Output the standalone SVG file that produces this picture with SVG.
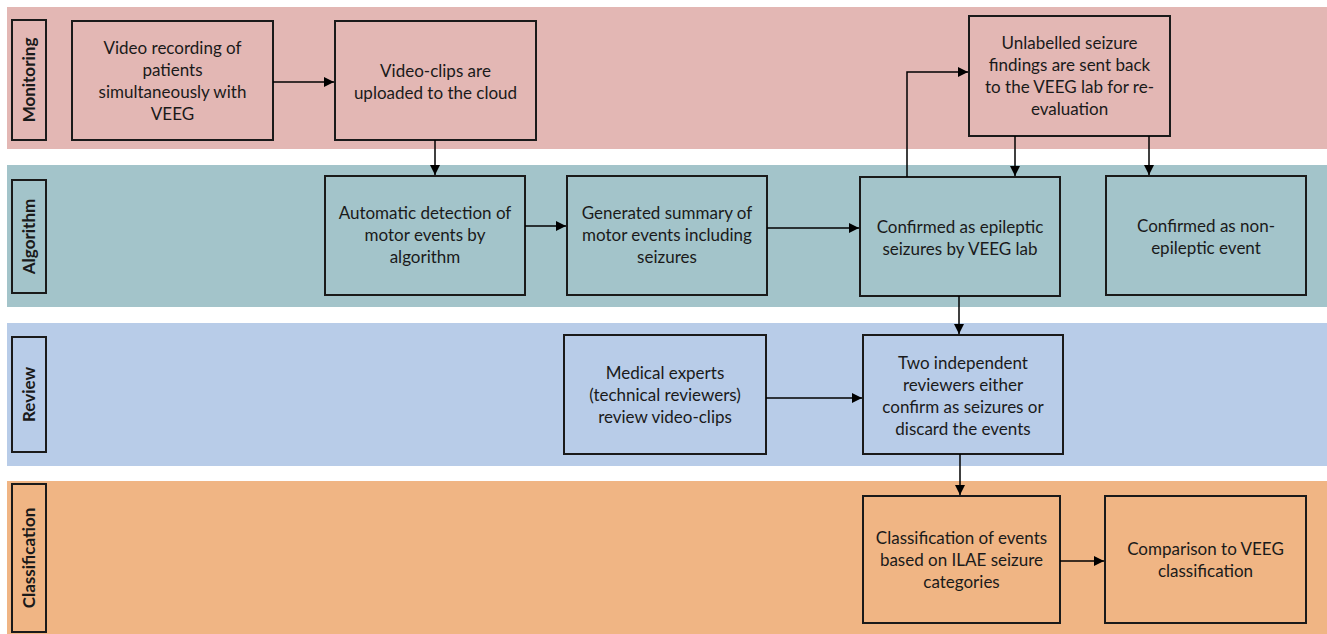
<svg xmlns="http://www.w3.org/2000/svg" width="1327" height="634" viewBox="0 0 1327 634">
<defs>
<marker id="ah" viewBox="0 0 10 10" refX="10" refY="5" markerWidth="10" markerHeight="10" markerUnits="userSpaceOnUse" orient="auto">
<path d="M0,0 L10,5 L0,10 z" fill="#000"/>
</marker>
</defs>
<style>
.node rect{stroke:#1a1a1a;stroke-width:2}
.lbl rect{fill:none;stroke:#1a1a1a;stroke-width:2}
text{font-family:Lato,"Open Sans",sans-serif;fill:#1a1a1a}
.t{font-size:17px;text-anchor:middle}
.lt{font-size:17px;font-weight:bold;text-anchor:middle}
.c{fill:none;stroke:#000;stroke-width:1.5;marker-end:url(#ah)}
.mon{fill:#E3B7B4}.alg{fill:#A3C4CA}.rev{fill:#B8CCE8}.cls{fill:#F0B584}
</style>
<rect width="1327" height="634" fill="#fff"/>
<g id="lanes">
<rect class="mon" x="7" y="7" width="1320" height="142"/>
<rect class="alg" x="7" y="165" width="1320" height="142"/>
<rect class="rev" x="7" y="323" width="1320" height="143"/>
<rect class="cls" x="7" y="481" width="1320" height="153"/>
</g>
<g id="lane-monitoring" class="lbl"><rect x="12" y="20" width="34" height="120"/><text class="lt" transform="translate(35,80) rotate(-90)">Monitoring</text></g>
<g id="lane-algorithm" class="lbl"><rect x="12" y="180" width="34" height="113"/><text class="lt" transform="translate(35,236.5) rotate(-90)">Algorithm</text></g>
<g id="lane-review" class="lbl"><rect x="12" y="337" width="34" height="115"/><text class="lt" transform="translate(35,394.5) rotate(-90)">Review</text></g>
<g id="lane-classification" class="lbl"><rect x="12" y="484" width="34" height="148"/><text class="lt" transform="translate(35,558) rotate(-90)">Classification</text></g>

<g id="n1" class="node"><rect class="mon" x="72" y="21" width="201" height="119"/>
<text class="t" x="172.5"><tspan x="172.5" y="54">Video recording of</tspan><tspan x="172.5" y="76">patients</tspan><tspan x="172.5" y="98">simultaneously with</tspan><tspan x="172.5" y="120">VEEG</tspan></text></g>
<g id="n2" class="node"><rect class="mon" x="335" y="21" width="201" height="119"/>
<text class="t"><tspan x="435.5" y="77">Video-clips are</tspan><tspan x="435.5" y="99">uploaded to the cloud</tspan></text></g>
<g id="n3" class="node"><rect class="mon" x="969" y="16" width="201" height="120"/>
<text class="t"><tspan x="1069.5" y="49">Unlabelled seizure</tspan><tspan x="1069.5" y="71">findings are sent back</tspan><tspan x="1069.5" y="93">to the VEEG lab for re-</tspan><tspan x="1069.5" y="115">evaluation</tspan></text></g>
<g id="n4" class="node"><rect class="alg" x="325" y="176" width="200" height="119"/>
<text class="t"><tspan x="425" y="219">Automatic detection of</tspan><tspan x="425" y="241">motor events by</tspan><tspan x="425" y="263">algorithm</tspan></text></g>
<g id="n5" class="node"><rect class="alg" x="567" y="176" width="200" height="119"/>
<text class="t"><tspan x="667" y="219">Generated summary of</tspan><tspan x="667" y="241">motor events including</tspan><tspan x="667" y="263">seizures</tspan></text></g>
<g id="n6" class="node"><rect class="alg" x="860" y="177" width="200" height="119"/>
<text class="t"><tspan x="960" y="233">Confirmed as epileptic</tspan><tspan x="960" y="255">seizures by VEEG lab</tspan></text></g>
<g id="n7" class="node"><rect class="alg" x="1106" y="176" width="200" height="119"/>
<text class="t"><tspan x="1206" y="232">Confirmed as non-</tspan><tspan x="1206" y="254">epileptic event</tspan></text></g>
<g id="n8" class="node"><rect class="rev" x="564" y="335" width="202" height="119"/>
<text class="t"><tspan x="665" y="379">Medical experts</tspan><tspan x="665" y="401">(technical reviewers)</tspan><tspan x="665" y="423">review video-clips</tspan></text></g>
<g id="n9" class="node"><rect class="rev" x="863" y="335" width="200" height="119"/>
<text class="t"><tspan x="963" y="369">Two independent</tspan><tspan x="963" y="391">reviewers either</tspan><tspan x="963" y="413">confirm as seizures or</tspan><tspan x="963" y="435">discard the events</tspan></text></g>
<g id="n10" class="node"><rect class="cls" x="863" y="496" width="197" height="127"/>
<text class="t"><tspan x="961.5" y="544">Classification of events</tspan><tspan x="961.5" y="566">based on ILAE seizure</tspan><tspan x="961.5" y="588">categories</tspan></text></g>
<g id="n11" class="node"><rect class="cls" x="1105" y="496" width="201" height="127"/>
<text class="t"><tspan x="1205.5" y="555">Comparison to VEEG</tspan><tspan x="1205.5" y="577">classification</tspan></text></g>

<g id="connectors">
<path class="c" d="M273,82 L334,82"/>
<path class="c" d="M435,140 L435,175"/>
<path class="c" d="M525,226 L566,226"/>
<path class="c" d="M767,228 L859,228"/>
<path class="c" d="M907,177 L907,72 L968,72"/>
<path class="c" d="M1015,136 L1015,176"/>
<path class="c" d="M1149,136 L1149,175"/>
<path class="c" d="M959,296 L959,334"/>
<path class="c" d="M766,398 L862,398"/>
<path class="c" d="M960,454 L960,495"/>
<path class="c" d="M1060,561 L1104,561"/>
</g>
</svg>
